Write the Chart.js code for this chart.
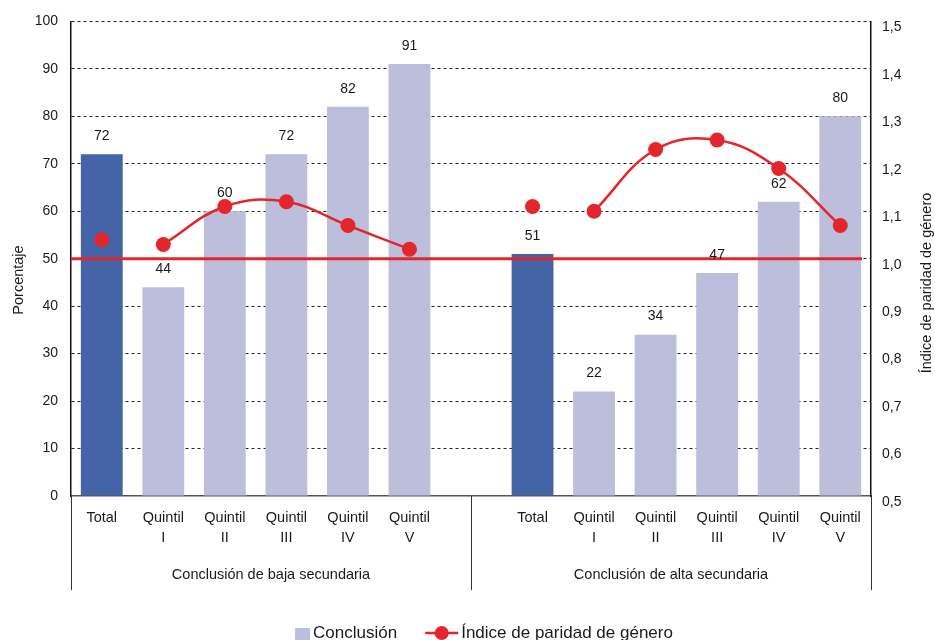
<!DOCTYPE html>
<html>
<head>
<meta charset="utf-8">
<script src="https://cdn.jsdelivr.net/npm/chart.js@4.4.1/dist/chart.umd.min.js"></script>
<style>
  html, body { margin: 0; padding: 0; background: #ffffff; }
  #wrap { width: 935px; height: 640px; }
</style>
</head>
<body>
<div id="wrap"><canvas id="chart" width="935" height="640"></canvas></div>
<script>
// Categories: two groups of Total + income quintiles, with an empty slot between them
const categories = [
  ['Total'], ['Quintil', 'I'], ['Quintil', 'II'], ['Quintil', 'III'], ['Quintil', 'IV'], ['Quintil', 'V'],
  [''],
  ['Total'], ['Quintil', 'I'], ['Quintil', 'II'], ['Quintil', 'III'], ['Quintil', 'IV'], ['Quintil', 'V']
];
const groupLabels = ['Conclusión de baja secundaria', 'Conclusión de alta secundaria'];

// Completion rate (%)
const completion = [72, 44, 60, 72, 82, 91, null, 51, 22, 34, 47, 62, 80];

// Gender parity index: quintile curve and the stand-alone totals
const parityQuintiles = [null, 1.03, 1.11, 1.12, 1.07, 1.02, null, null, 1.10, 1.23, 1.25, 1.19, 1.07];
const parityTotals    = [1.04, null, null, null, null, null, null, 1.11, null, null, null, null, null];
const parityReference = 1.0;

// Axis ranges
const percentAxis = { min: 0, max: 100, step: 10 };
const parityAxis  = { min: 0.5, max: 1.5, step: 0.1 };

const FONT = '"Liberation Sans", Arial, Helvetica, sans-serif';
const TEXT = '#1a1a1a';
const RED = '#E3262B';
const DARK_BAR = '#4464A7';
const LIGHT_BAR = '#BDBDDC';

const barColors = categories.map(c => c[0] === 'Total' ? DARK_BAR : LIGHT_BAR);

const decorations = {
  id: 'decorations',
  afterDatasetsDraw(chart) {
    const { ctx, chartArea } = chart;
    const y1 = chart.scales.y1;

    // Parity reference line at 1,0
    const yRef = y1.getPixelForValue(parityReference);
    ctx.save();
    ctx.strokeStyle = RED;
    ctx.lineWidth = 3;
    ctx.beginPath();
    ctx.moveTo(chartArea.left, yRef);
    ctx.lineTo(chartArea.right - 9, yRef);
    ctx.stroke();

    // Value labels above bars
    const meta = chart.getDatasetMeta(0);
    ctx.font = '14px ' + FONT;
    ctx.fillStyle = TEXT;
    ctx.textAlign = 'center';
    ctx.textBaseline = 'middle';
    meta.data.forEach((bar, i) => {
      const v = completion[i];
      if (v === null || v === undefined) return;
      ctx.fillText(String(v), bar.x, bar.y - 18);
    });
    ctx.restore();
  },
  afterDraw(chart) {
    const { ctx, chartArea } = chart;
    const x = chart.scales.x;
    const mid = x.getPixelForValue(6);
    const bottom = chartArea.bottom;

    ctx.save();
    // Group separators under the axis
    ctx.strokeStyle = '#333';
    ctx.lineWidth = 1;
    [chartArea.left, mid, chartArea.right].forEach(px => {
      const p = Math.round(px) + 0.5;
      ctx.beginPath();
      ctx.moveTo(p, bottom);
      ctx.lineTo(p, bottom + 94);
      ctx.stroke();
    });

    // Group labels
    ctx.fillStyle = TEXT;
    ctx.font = '14.5px ' + FONT;
    ctx.textAlign = 'center';
    ctx.textBaseline = 'middle';
    ctx.fillText(groupLabels[0], (chartArea.left + mid) / 2, bottom + 79);
    ctx.fillText(groupLabels[1], (mid + chartArea.right) / 2, bottom + 79);

    // Axis titles (both read bottom to top)
    const titleY = 280;
    ctx.save();
    ctx.translate(19, titleY);
    ctx.rotate(-Math.PI / 2);
    ctx.fillText('Porcentaje', 0, 0);
    ctx.restore();
    ctx.save();
    ctx.translate(927, titleY + 3);
    ctx.rotate(-Math.PI / 2);
    ctx.fillText('Índice de paridad de género', 0, 0);
    ctx.restore();

    // Legend
    const legendY = 633;
    ctx.font = '17px ' + FONT;
    ctx.textAlign = 'left';
    const t1 = chart.data.datasets[0].label;
    const t2 = chart.data.datasets[1].label;
    const w1 = ctx.measureText(t1).width;
    const w2 = ctx.measureText(t2).width;
    const total = 15 + 3 + w1 + 28 + 33 + 3 + w2;
    let lx = 484 - total / 2;
    ctx.fillStyle = LIGHT_BAR;
    ctx.fillRect(lx, legendY - 5, 15, 16);
    lx += 15 + 3;
    ctx.fillStyle = TEXT;
    ctx.fillText(t1, lx, legendY);
    lx += w1 + 28;
    ctx.strokeStyle = RED;
    ctx.lineWidth = 2.5;
    ctx.beginPath();
    ctx.moveTo(lx, legendY);
    ctx.lineTo(lx + 33, legendY);
    ctx.stroke();
    ctx.fillStyle = RED;
    ctx.beginPath();
    ctx.arc(lx + 16.5, legendY, 7, 0, Math.PI * 2);
    ctx.fill();
    lx += 33 + 3;
    ctx.fillStyle = TEXT;
    ctx.fillText(t2, lx, legendY);
    ctx.restore();
  }
};

new Chart(document.getElementById('chart'), {
  data: {
    labels: categories,
    datasets: [
      {
        type: 'bar',
        label: 'Conclusión',
        data: completion,
        backgroundColor: barColors,
        borderWidth: 0,
        barPercentage: 0.68,
        categoryPercentage: 1,
        yAxisID: 'y',
        order: 2
      },
      {
        type: 'line',
        label: 'Índice de paridad de género',
        data: parityQuintiles,
        yAxisID: 'y1',
        borderColor: RED,
        borderWidth: 2.5,
        backgroundColor: RED,
        pointBackgroundColor: RED,
        pointBorderWidth: 0,
        pointRadius: 7.5,
        tension: 0.4,
        spanGaps: false,
        fill: false,
        order: 0
      },
      {
        type: 'line',
        label: 'Total',
        data: parityTotals,
        yAxisID: 'y1',
        showLine: false,
        pointBackgroundColor: RED,
        pointBorderWidth: 0,
        pointRadius: 7.5,
        order: 0
      }
    ]
  },
  options: {
    responsive: false,
    animation: false,
    devicePixelRatio: 1,
    layout: { padding: { top: 19, left: 0, right: 0, bottom: 0 } },
    plugins: { legend: { display: false }, tooltip: { enabled: false } },
    scales: {
      x: {
        grid: { display: false, drawTicks: false },
        border: { display: true, color: '#555', width: 1.5 },
        ticks: {
          color: TEXT,
          font: { family: FONT, size: 14.5, lineHeight: 1.38 },
          padding: 12,
          maxRotation: 0,
          autoSkip: false
        },
        afterFit(s) { s.height = 144; }
      },
      y: {
        position: 'left',
        min: percentAxis.min,
        max: percentAxis.max,
        ticks: {
          stepSize: percentAxis.step,
          color: TEXT,
          font: { family: FONT, size: 14 },
          padding: 13
        },
        grid: {
          color: c => c.tick && c.tick.value === 0 ? 'rgba(0,0,0,0)' : '#222',
          lineWidth: 1,
          drawTicks: false
        },
        border: { display: true, color: '#111', width: 1.5, dash: [3, 3] },
        afterFit(s) { s.width = 71; }
      },
      y1: {
        position: 'right',
        min: parityAxis.min,
        max: parityAxis.max,
        ticks: {
          stepSize: parityAxis.step,
          color: TEXT,
          font: { family: FONT, size: 14 },
          padding: 11,
          labelOffset: 6,
          callback: v => Number(v).toFixed(1).replace('.', ',')
        },
        grid: { drawOnChartArea: false, drawTicks: false },
        border: { display: true, color: '#111', width: 1.5 },
        afterFit(s) { s.width = 64; }
      }
    }
  },
  plugins: [decorations]
});
</script>
</body>
</html>
